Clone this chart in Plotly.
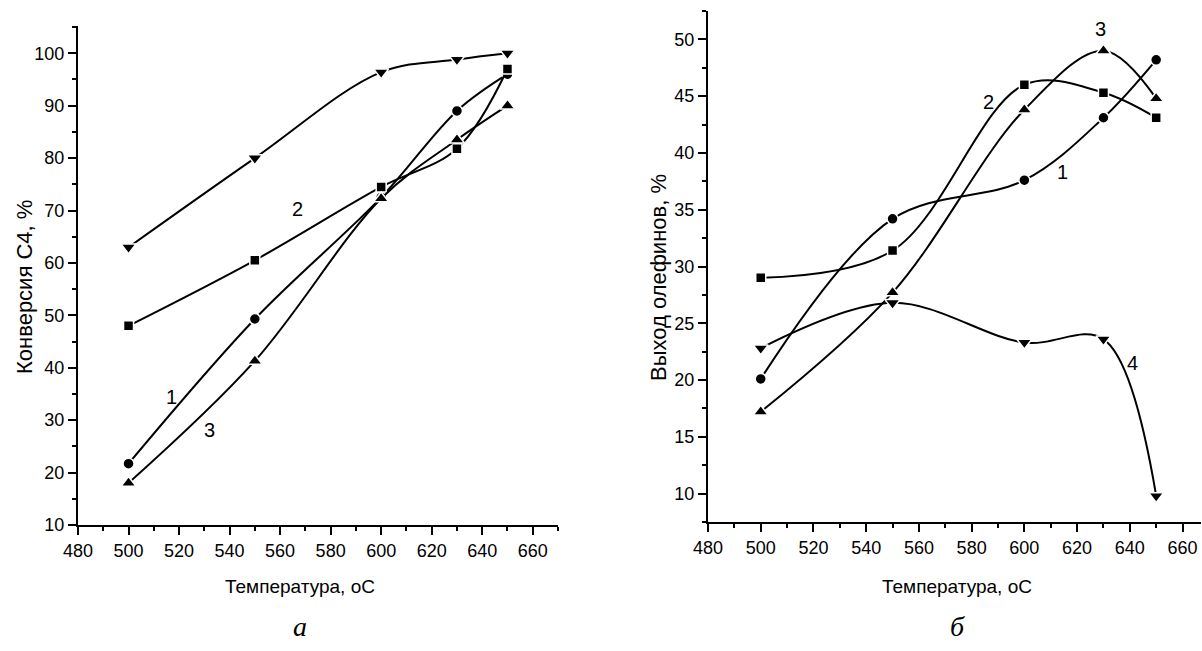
import plotly.graph_objects as go

# ---------------- data ----------------
temps = [500, 550, 600, 630, 650]

# panel a: conversion of C4, %
conv_1 = [21.7, 49.3, 72.5, 89.0, 96.0]
conv_2 = [48.0, 60.5, 74.5, 81.8, 97.0]
conv_3 = [18.0, 41.3, 72.3, 83.5, 90.0]
conv_4 = [63.0, 80.0, 96.4, 98.8, 100.0]

# panel b: olefin yield, %
yld_1 = [20.1, 34.2, 37.6, 43.1, 48.2]
yld_2 = [29.0, 31.4, 46.0, 45.3, 43.1]
yld_3 = [17.2, 27.7, 43.8, 49.0, 44.8]
yld_4 = [22.8, 26.8, 23.3, 23.6, 9.8]

symbols = ["circle", "square", "triangle-up", "triangle-down"]
marker_sizes = [11, 10, 13, 13]
curve_names = ["1", "2", "3", "4"]

x_ticks = [480, 500, 520, 540, 560, 580, 600, 620, 640, 660]
y_ticks_a = [10, 20, 30, 40, 50, 60, 70, 80, 90, 100]
y_ticks_b = [10, 15, 20, 25, 30, 35, 40, 45, 50]

x_title = "Температура, оС"
y_title_a = "Конверсия С4, %"
y_title_b = "Выход олефинов, %"

# ---------------- figure ----------------
W, H = 1202, 651
fig = go.Figure()

narrow = "Liberation Sans Narrow, Arial Narrow, Liberation Sans, Arial"
regular = "Liberation Sans, Arial"

def add_series(ys, sym, sz, xa, ya):
    fig.add_trace(go.Scatter(
        x=temps, y=ys, mode="lines+markers",
        line=dict(color="black", width=2, shape="spline", smoothing=1.0),
        marker=dict(symbol=sym, size=sz, color="black",
                    line=dict(color="white", width=1.5)),
        xaxis=xa, yaxis=ya, showlegend=False, cliponaxis=False))

for ys, s, sz in zip([conv_1, conv_2, conv_3, conv_4], symbols, marker_sizes):
    add_series(ys, s, sz, "x", "y")
for ys, s, sz in zip([yld_1, yld_2, yld_3, yld_4], symbols, marker_sizes):
    add_series(ys, s, sz, "x2", "y2")

def px_x(p):
    return p / W

def px_y(p):
    return 1 - p / H

axis_common = dict(
    showgrid=False, zeroline=False, showline=True, linecolor="black", linewidth=2,
    ticks="outside", ticklen=8, tickwidth=2, tickcolor="black", automargin=False,
    tickfont=dict(family=narrow, size=18, color="black"),
    minor=dict(ticks="outside", ticklen=4, tickwidth=2, tickcolor="black"),
)

fig.update_layout(
    width=W, height=H,
    margin=dict(l=0, r=0, t=0, b=0),
    paper_bgcolor="white", plot_bgcolor="white",
    xaxis=dict(domain=[px_x(78), px_x(558)], range=[480, 670], anchor="y",
               tickvals=x_ticks, minor_dtick=10, **axis_common),
    yaxis=dict(domain=[px_y(525), px_y(26)], range=[10, 105.2], anchor="x",
               tickvals=y_ticks_a, minor_dtick=5, **axis_common),
    xaxis2=dict(domain=[px_x(708), px_x(1201)], range=[480, 667], anchor="y2",
                tickvals=x_ticks, minor_dtick=10, **axis_common),
    yaxis2=dict(domain=[px_y(522), px_y(11)], range=[7.5, 52.5], anchor="x2",
                tickvals=y_ticks_b, minor_dtick=2.5, **axis_common),
)

ann = []
lab_font = dict(family=regular, size=20, color="black")
# curve labels, panel a
for (x, y, t) in [(517, 34.5, "1"), (567, 70.2, "2"), (532, 28.1, "3"), (651, 105.6, "4")]:
    ann.append(dict(x=x, y=y, xref="x", yref="y", text=t, showarrow=False, font=lab_font,
                    xanchor="center", yanchor="middle"))
# curve labels, panel b
for (x, y, t) in [(614.6, 38.3, "1"), (586.5, 44.5, "2"), (628.7, 50.9, "3"), (641.2, 21.5, "4")]:
    ann.append(dict(x=x, y=y, xref="x2", yref="y2", text=t, showarrow=False, font=lab_font,
                    xanchor="center", yanchor="middle"))

def paper_text(xp, yp, text, font, angle=0):
    ann.append(dict(x=px_x(xp), y=px_y(yp), xref="paper", yref="paper", text=text,
                    textangle=angle, showarrow=False, font=font,
                    xanchor="center", yanchor="middle"))

title_font = dict(family=narrow, size=19, color="black")
paper_text(300, 586, x_title, title_font)
paper_text(957, 586, x_title, title_font)
ytf = dict(family=regular, size=22, color="black")
paper_text(24, 287, y_title_a, ytf, -90)
paper_text(658, 278, y_title_b, ytf, -90)

panel_font = dict(family="Liberation Serif, Times New Roman, serif", size=28, color="black")
paper_text(300, 626, "<i>а</i>", panel_font)
paper_text(957, 626, "<i>б</i>", panel_font)

fig.update_layout(annotations=ann)
fig.write_html("out.html", config={"displayModeBar": False},
               post_script="document.body.style.margin='0';document.body.style.overflow='hidden';")
